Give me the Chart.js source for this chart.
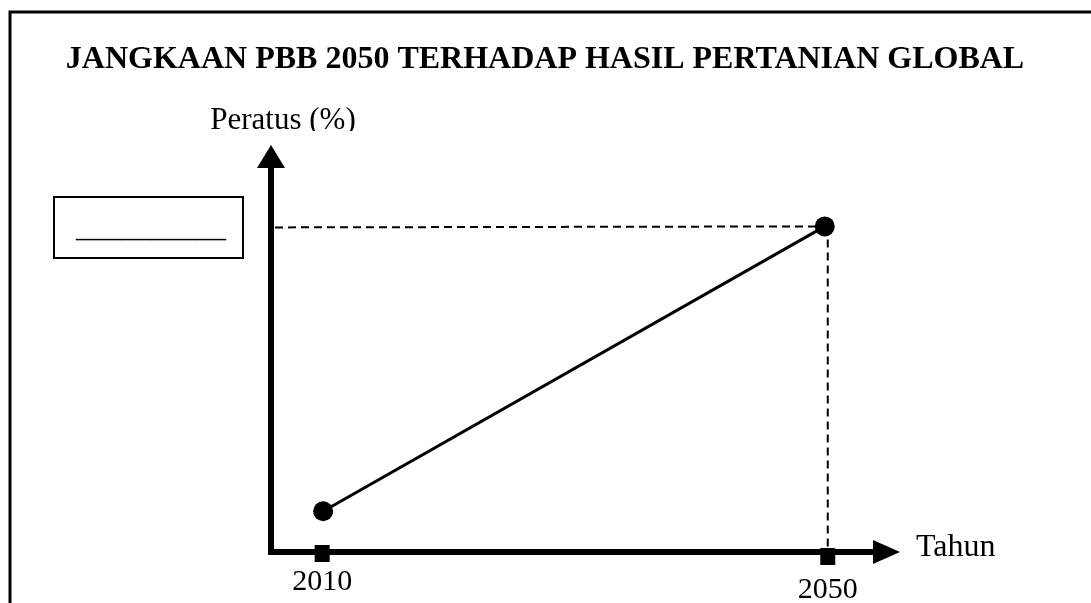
<!DOCTYPE html>
<html>
<head>
<meta charset="utf-8">
<script src="https://cdn.jsdelivr.net/npm/chart.js@4"></script>
<style>
  body { margin: 0; background: #fff; }
  canvas { display: block; }
</style>
</head>
<body>
<canvas id="myChart" width="1091" height="603"></canvas>
<script>
// values (y in percent, no scale printed)
const years = [2010, 2050];
const peratus = [10, 80];
const tickYears = [2010, 2050];
const tickLabels = ['2010', '2050'];

const titleText = 'JANGKAAN PBB 2050 TERHADAP HASIL PERTANIAN GLOBAL';
const yTitle = 'Peratus (%)';
const xTitle = 'Tahun';
const blankAnswer = '__________';

const serif = "'Liberation Serif', 'Times New Roman', serif";

const sketch = {
    id: 'sketch',
    beforeDatasetsDraw(chart) {
        const ctx = chart.ctx;
        const area = chart.chartArea;
        const xs = chart.scales.x;
        const ys = chart.scales.y;
        const ax = area.left - 2;
        ctx.save();

        // page frame (left + top only)
        ctx.strokeStyle = '#000';
        ctx.lineWidth = 3;
        ctx.beginPath();
        ctx.moveTo(10, 603);
        ctx.lineTo(10, 12);
        ctx.lineTo(1091, 12);
        ctx.stroke();

        // dashed guide lines to the 2050 point
        const last = years.length - 1;
        const px = xs.getPixelForValue(years[last]);
        const py = ys.getPixelForValue(peratus[last]);
        ctx.lineWidth = 2;
        ctx.setLineDash([8, 5]);
        ctx.beginPath();
        ctx.moveTo(ax + 4, py + 1);
        ctx.lineTo(px, py);
        ctx.moveTo(px + 3, py);
        ctx.lineTo(px + 3, area.bottom);
        ctx.stroke();
        ctx.setLineDash([]);

        // axes with arrow heads
        ctx.lineWidth = 6;
        ctx.beginPath();
        ctx.moveTo(ax, area.bottom + 3);
        ctx.lineTo(ax, area.top + 22);
        ctx.moveTo(ax - 3, area.bottom);
        ctx.lineTo(area.right - 26, area.bottom);
        ctx.stroke();
        ctx.fillStyle = '#000';
        ctx.beginPath();
        ctx.moveTo(ax, area.top);
        ctx.lineTo(ax + 14, area.top + 23);
        ctx.lineTo(ax - 14, area.top + 23);
        ctx.closePath();
        ctx.fill();
        ctx.beginPath();
        ctx.moveTo(area.right, area.bottom);
        ctx.lineTo(area.right - 27, area.bottom - 12);
        ctx.lineTo(area.right - 27, area.bottom + 12);
        ctx.closePath();
        ctx.fill();

        // square tick marks
        tickYears.forEach((yr, i) => {
            const tx = xs.getPixelForValue(yr) + (i === 0 ? -1 : 3);
            ctx.fillRect(tx - 7.5, area.bottom - 7 + i * 3, 15, 17);
        });
        ctx.restore();
    },
    afterDraw(chart) {
        const ctx = chart.ctx;
        const xs = chart.scales.x;
        ctx.save();
        ctx.fillStyle = '#000';
        ctx.textBaseline = 'alphabetic';

        // title
        ctx.font = 'bold 32px ' + serif;
        ctx.textAlign = 'center';
        ctx.fillText(titleText, 545, 68);

        // y axis title, cut at the bottom like the original
        ctx.save();
        ctx.beginPath();
        ctx.rect(0, 0, 1091, 131);
        ctx.clip();
        ctx.font = '31px ' + serif;
        ctx.fillText(yTitle, 283, 129);
        ctx.restore();

        // x axis title
        ctx.font = '32px ' + serif;
        ctx.textAlign = 'left';
        ctx.fillText(xTitle, 916, 556);

        // tick labels
        ctx.font = '30px ' + serif;
        ctx.textAlign = 'center';
        tickYears.forEach((yr, i) => {
            const tx = xs.getPixelForValue(yr) + (i === 0 ? -1 : 3);
            ctx.fillText(tickLabels[i], tx, 590 + i * 8);
        });

        // empty answer box
        ctx.lineWidth = 2;
        ctx.strokeRect(54, 197, 189, 61);
        ctx.textAlign = 'left';
        ctx.fillText(blankAnswer, 76, 237);
        ctx.restore();
    }
};

const data = {
    datasets: [{
        label: yTitle,
        data: years.map((yr, i) => ({ x: yr, y: peratus[i] })),
        borderColor: '#000',
        borderWidth: 3,
        pointRadius: 10,
        pointBackgroundColor: '#000',
        pointBorderWidth: 0,
        tension: 0,
        clip: false
    }]
};

const config = {
    type: 'line',
    data: data,
    options: {
        responsive: false,
        animation: false,
        devicePixelRatio: 1,
        layout: {
            padding: { left: 273, right: 191, top: 145, bottom: 51 }
        },
        scales: {
            x: { type: 'linear', min: 2006, max: 2056, display: false },
            y: { min: 0, max: 100, display: false }
        },
        plugins: {
            legend: { display: false },
            tooltip: { enabled: false }
        }
    },
    plugins: [sketch]
};

const myChart = new Chart(document.getElementById('myChart'), config);
</script>
</body>
</html>
